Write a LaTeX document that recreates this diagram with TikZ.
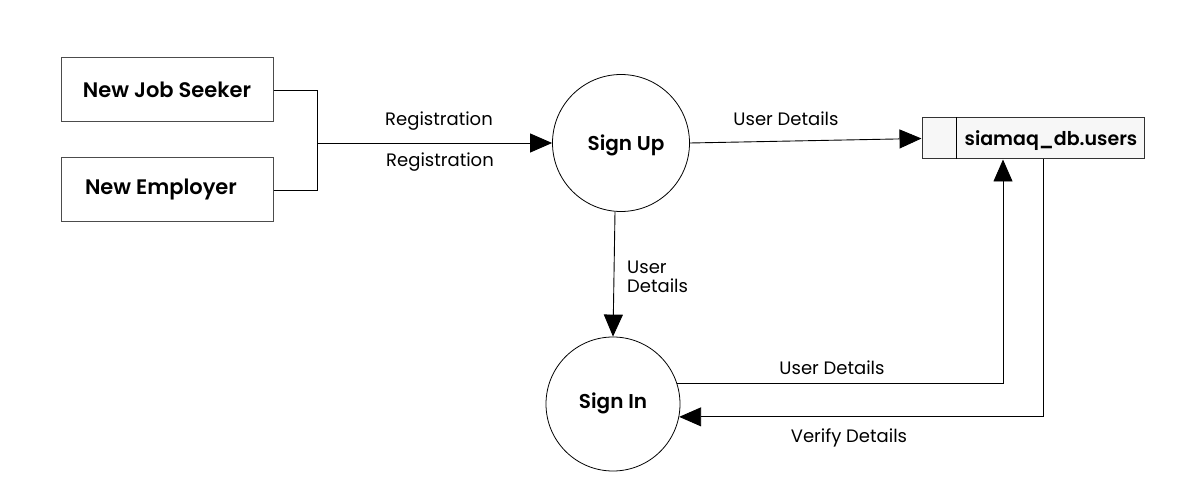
\documentclass[tikz,border=0pt]{standalone}
\usepackage{fontspec}
\setmainfont{Poppins}[BoldFont={Poppins SemiBold}]
\usetikzlibrary{arrows.meta,positioning,calc}
\begin{document}
\begin{tikzpicture}[x=1pt,y=-1pt,
  ent/.style={draw=black!70,line width=1pt,minimum width=212pt,minimum height=64pt,inner sep=0pt,font=\fontsize{21}{25}\selectfont\bfseries},
  proc/.style={draw,circle,line width=0.8pt,inner sep=0pt},
  ptext/.style={font=\fontsize{20}{24}\selectfont\bfseries,inner sep=0pt},
  flow/.style={line width=0.9pt,-{Triangle[length=22pt,width=19pt]}},
  plain/.style={line width=0.9pt},
  lbl/.style={font=\fontsize{18}{21}\selectfont,inner sep=0pt}]
\useasboundingbox (0,0) rectangle (1186,502);
\node[ent] (js) at (167,90) {New Job Seeker};
\node[ent] (emp) at (167,190) {\hspace*{-12pt}New Employer};
\node[proc,minimum size=137pt] (signup) at (621,143) {};
\node[ptext] (suT) at (626,145) {Sign Up};
\node[proc,minimum size=134pt] (signin) at (613,404) {};
\node[ptext] (siT) at (613,403) {Sign In};
\node[draw=black!80,line width=1pt,fill=black!3,minimum width=222pt,minimum height=41pt,inner sep=0pt] (ds) at (1033,138.5) {};
\draw[line width=1pt] ($(ds.north west)+(35,0)$) coordinate (dv1) -- ($(ds.south west)+(35,0)$) coordinate (dv2);
\node[font=\fontsize{19}{22}\selectfont\bfseries,inner sep=0pt] (dsT) at (1051,141) {siamaq\_db.users};
\coordinate (j) at (317,143);
\draw[plain] (js.east) -| (j);
\draw[plain] (emp.east) -| (j);
\draw[flow] (j) -- (signup.west);
\node[lbl] (r1) at (439,121) {Registration};
\node[lbl] (r2) at (440,162) {Registration};
\draw[flow] (signup.east) -- (ds.west);
\node[lbl] (ud1) at (786,119) {User Details};
\draw[flow] ($(signup.south)+(-6,0)$) -- (signin.north);
\node[lbl,align=left,anchor=north west,font=\fontsize{18}{19}\selectfont] (ud2) at (627,261) {User\\Details};
\coordinate (up) at ($(ds.south)+(-30,0)$);
\coordinate (dn) at ($(ds.south)+(10,0)$);
\draw[flow] (signin.18) -| (up);
\node[lbl] (ud3) at (832,368) {User Details};
\draw[flow] (dn) |- (signin.-11);
\node[lbl] (vd) at (849,438) {Verify Details};
\end{tikzpicture}
\end{document}
